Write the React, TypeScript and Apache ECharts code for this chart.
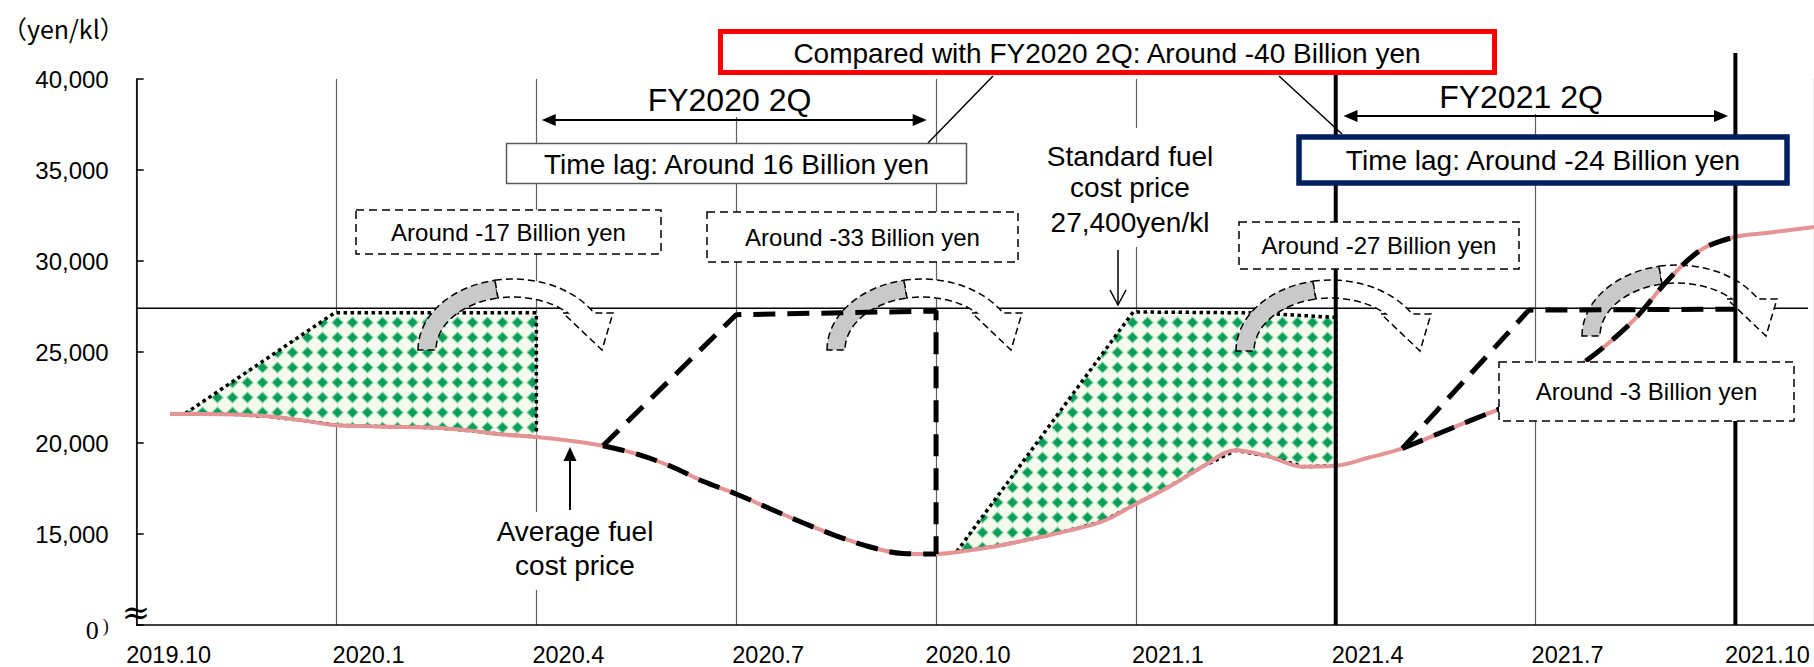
import React, { useEffect, useRef } from "react";
import * as echarts from "echarts";

const FONT = "'Liberation Sans', Arial, Helvetica, sans-serif";

// ---------- data ----------
const xAxisLabels = ["2019.10", "2020.1", "2020.4", "2020.7", "2020.10", "2021.1", "2021.4", "2021.7", "2021.10"];
const xMin = 0;
const xMax = 25.18;
const xStep = 3;
const yMin = 10000;
const yMax = 40000;
const yStep = 5000;
const standardFuelPrice = 27400;
const standardLineEnd = 25.09;

// months since 2019.10, yen/kl
const averageFuelPrice: [number, number][] = [
  [0.5, 21600], [1, 21600], [1.5, 21570], [2, 21450], [2.5, 21230], [3, 20970], [3.5, 20920],
  [4, 20880], [4.5, 20840], [5, 20680], [5.5, 20470], [6, 20330], [6.5, 20130], [7, 19850],
  [7.5, 19400], [8, 18750], [8.5, 17900], [9, 17200], [9.5, 16400], [10, 15620], [10.5, 14900],
  [11, 14300], [11.5, 13930], [12, 13900], [12.5, 14100], [13, 14400], [13.5, 14780], [14, 15200],
  [14.5, 15700], [15, 16650], [15.5, 17600], [16, 18700], [16.5, 19600], [17, 19250], [17.5, 18700],
  [18, 18750], [18.5, 19200], [19, 19700], [19.5, 20450], [20, 21200], [20.5, 21930], [21, 22700],
  [21.5, 23850], [22, 25200], [22.5, 26850], [23, 29000], [23.5, 30650], [24, 31330], [24.5, 31550],
  [25.18, 31870],
];

const timeLag2020Top: [number, number][] = [[0.73, 21620], [2.97, 27150], [6, 27150]];
const timeLag2021Top: [number, number][] = [[12.31, 14030], [14.96, 27200], [16.8, 27150], [18, 26900]];

const projection2020: [number, number][] = [[7, 19850], [9, 27050], [12, 27250], [12, 13900]];
const projection2020Span: [number, number] = [7, 12];
const projection2021: [number, number][] = [[19, 19700], [20.9, 27300], [24, 27350]];
const projection2021Span: [number, number] = [19, 24];

const fiscalBoundaries = [18, 24];

// ---------- curved arrow shapes ----------
const CURVE_GRAY = "M -95 0 A 95 71 0 0 1 -18 -69.7 L -15 -52 A 77 53 0 0 0 -77 0 Z";
const CURVE_WHITE = "M -18 -69.7 A 95 71 0 0 1 81 -37 L 100 -37 L 89 0 L 50 -37 L 55 -37 A 77 53 0 0 0 -15 -52 Z";
echarts.graphic.registerShape("curveGray", echarts.graphic.extendPath(CURVE_GRAY, {}) as any);
echarts.graphic.registerShape("curveWhite", echarts.graphic.extendPath(CURVE_WHITE, {}) as any);

const redBetween = (lo: number, hi: number) =>
  averageFuelPrice.filter(([m]) => m >= lo - 1e-9 && m <= hi + 1e-9);
const areaPolygon = (top: [number, number][]) => {
  const lo = top[0][0];
  const hi = top[top.length - 1][0];
  return [...top, ...redBetween(lo, hi).slice().reverse()];
};

export default function App() {
  const ref = useRef<HTMLDivElement>(null);
  useEffect(() => {
    if (!ref.current) return;
    const chart = echarts.init(ref.current, undefined, { renderer: "svg" });

    const tile = document.createElement("canvas");
    tile.width = 15;
    tile.height = 15;
    const ctx = tile.getContext("2d")!;
    ctx.fillStyle = "#f4fbee";
    ctx.fillRect(0, 0, 15, 15);
    const diamond = (r: number, color: string) => {
      ctx.fillStyle = color;
      ctx.beginPath();
      ctx.moveTo(7.5, 7.5 - r);
      ctx.lineTo(7.5 + r, 7.5);
      ctx.lineTo(7.5, 7.5 + r);
      ctx.lineTo(7.5 - r, 7.5);
      ctx.closePath();
      ctx.fill();
    };
    diamond(6.3, "#8ed5aa");
    diamond(4.8, "#0a9f58");
    const pattern: any = { image: tile, repeat: "repeat", imageWidth: 15, imageHeight: 15 };

    const greenSeries = (poly: [number, number][]) => ({
      type: "custom",
      coordinateSystem: "cartesian2d",
      z: 1,
      silent: true,
      data: [[poly[0][0], poly[0][1]]],
      renderItem: (_p: any, api: any) => ({
        type: "polygon",
        shape: { points: poly.map((p) => api.coord(p)) },
        style: { fill: pattern, stroke: "#000", lineWidth: 3.5, lineDash: [3.5, 3.5] },
      }),
    });

    const dashedBlack = { color: "#000", width: 5, type: [22, 12] as any };

    const option: any = {
      animation: false,
      backgroundColor: "#fff",
      grid: { left: 136.7, right: 0, top: 79, bottom: 40.3, containLabel: false },
      xAxis: {
        type: "value",
        min: xMin,
        max: xMax,
        interval: xStep,
        axisLine: { lineStyle: { color: "#000", width: 1.5 } },
        axisTick: { show: false },
        splitLine: { show: true, lineStyle: { color: "#5f5f5f", width: 1.2 } },
        axisLabel: {
          color: "#000",
          fontFamily: FONT,
          fontSize: 23.5,
          lineHeight: 24,
          margin: 18,
          padding: [0, 0, 0, 64],
          showMaxLabel: false,
          formatter: (v: number) => {
            const i = Math.round(v / xStep);
            return Math.abs(v - i * xStep) < 1e-6 && xAxisLabels[i] ? xAxisLabels[i] : "";
          },
        },
      },
      yAxis: {
        type: "value",
        min: yMin,
        max: yMax,
        interval: yStep,
        axisLine: { show: true, lineStyle: { color: "#000", width: 1.5 } },
        axisTick: { show: true, inside: true, length: 7, lineStyle: { color: "#000", width: 1.5 } },
        splitLine: { show: false },
        axisLabel: {
          color: "#000",
          fontFamily: FONT,
          fontSize: 24,
          margin: 28,
          formatter: (v: number) =>
            v === yMin ? "{z|0}{p|)}" : v.toLocaleString("en-US"),
          rich: {
            z: { fontFamily: "'Liberation Serif', serif", fontSize: 26, color: "#000", padding: [10, 0, 0, 0] },
            p: { fontFamily: "'Liberation Serif', serif", fontSize: 18, color: "#000", padding: [2, 0, 0, 4] },
          },
        },
      },
      series: [
        greenSeries(areaPolygon(timeLag2020Top)),
        greenSeries(areaPolygon(timeLag2021Top)),
        {
          type: "line",
          z: 1,
          silent: true,
          symbol: "none",
          data: [[xMin, standardFuelPrice], [standardLineEnd, standardFuelPrice]],
          lineStyle: { color: "#000", width: 1.5 },
        },
        {
          type: "line",
          z: 4,
          silent: true,
          symbol: "none",
          smooth: 0.35,
          data: averageFuelPrice,
          lineStyle: { color: "#e49494", width: 4 },
        },
        {
          type: "line",
          z: 4,
          silent: true,
          symbol: "none",
          smooth: 0.35,
          data: redBetween(projection2020Span[0], projection2020Span[1]),
          lineStyle: dashedBlack,
        },
        {
          type: "line",
          z: 4,
          silent: true,
          symbol: "none",
          smooth: 0.35,
          data: redBetween(projection2021Span[0], projection2021Span[1]),
          lineStyle: dashedBlack,
        },
        {
          type: "line",
          z: 4,
          silent: true,
          symbol: "none",
          data: projection2020,
          lineStyle: dashedBlack,
        },
        {
          type: "line",
          z: 4,
          silent: true,
          symbol: "none",
          data: projection2021,
          lineStyle: dashedBlack,
        },
      ],
    };
    chart.setOption(option);

    const px = (m: number, v: number) => chart.convertToPixel({ gridIndex: 0 }, [m, v]) as number[];
    const yBase = px(0, yMin)[1];

    const els: any[] = [];
    const text = (x: number, y: number, t: string, size: number, extra: any = {}) =>
      els.push({
        type: "text",
        x,
        y,
        z: 12,
        silent: true,
        style: { text: t, fontSize: size, fontFamily: FONT, fill: "#000", align: "center", verticalAlign: "middle", ...extra },
      });
    const rect = (x: number, y: number, w: number, h: number, style: any, z = 10) =>
      els.push({ type: "rect", z, silent: true, shape: { x, y, width: w, height: h }, style });
    const line = (x1: number, y1: number, x2: number, y2: number, style: any, z = 8) =>
      els.push({ type: "line", z, silent: true, shape: { x1, y1, x2, y2 }, style });
    const polygon = (points: number[][], style: any, z = 8) =>
      els.push({ type: "polygon", z, silent: true, shape: { points }, style });
    const polyline = (points: number[][], style: any, z = 8) =>
      els.push({ type: "polyline", z, silent: true, shape: { points }, style });

    // unit label and axis break
    text(2, 28, "（yen/kl）", 25, { align: "left", fontFamily: "'Noto Sans CJK JP', sans-serif" });
    text(136, 612, "≈", 34, { fontFamily: "'DejaVu Serif', serif" });

    // thick fiscal boundary lines
    fiscalBoundaries.forEach((m, i) => {
      const x = px(m, yMin)[0];
      line(x, i === 0 ? 75 : 53, x, yBase, { stroke: "#000", lineWidth: 4 }, 6);
    });

    // curved arrows
    const curveCenters = [[513, 350], [922, 350], [1331, 351], [1677, 336]];
    curveCenters.forEach(([cx, cy]) => {
      els.push({ type: "curveGray", x: cx, y: cy, z: 3, silent: true, style: { fill: "#c9c9c9", stroke: "#000", lineWidth: 1.5, lineDash: [7, 4] } });
      els.push({ type: "curveWhite", x: cx, y: cy, z: 3, silent: true, style: { fill: "#fff", stroke: "#000", lineWidth: 1.5, lineDash: [7, 4] } });
    });

    // red summary box
    rect(720.5, 31.5, 774, 41, { fill: "#fff", stroke: "#ff0000", lineWidth: 5 });
    text(1107, 53, "Compared with FY2020 2Q: Around -40 Billion yen", 28);
    line(993, 76, 928, 143, { stroke: "#000", lineWidth: 1.5 }, 9);
    line(1279, 76, 1342, 134, { stroke: "#000", lineWidth: 1.5 }, 9);

    // covers for gridlines behind period titles
    rect(728, 76, 16, 41, { fill: "#fff" }, 7);
    rect(1527, 76, 16, 38, { fill: "#fff" }, 7);

    // period brackets
    const bracket = (x1: number, x2: number, y: number) => {
      line(x1 + 10, y, x2 - 10, y, { stroke: "#000", lineWidth: 2 });
      polygon([[x1, y], [x1 + 14, y - 6], [x1 + 14, y + 6]], { fill: "#000" });
      polygon([[x2, y], [x2 - 14, y - 6], [x2 - 14, y + 6]], { fill: "#000" });
    };
    bracket(541.7, 926.7, 120);
    bracket(1343.5, 1728, 116);
    text(729.5, 100, "FY2020 2Q", 32);
    text(1521, 97, "FY2021 2Q", 32);

    // time lag boxes
    rect(506.5, 143.5, 460, 40, { fill: "#fff", stroke: "#595959", lineWidth: 1.5 });
    text(736.5, 164, "Time lag: Around 16 Billion yen", 28);
    rect(1299, 137, 488, 46, { fill: "#fff", stroke: "#002060", lineWidth: 5.5 });
    text(1543, 160.5, "Time lag: Around -24 Billion yen", 28);

    // dashed estimate boxes
    const dashed = { fill: "#fff", stroke: "#000", lineWidth: 1.5, lineDash: [8, 5] };
    const dashedBoxes: [number, number, number, number, string][] = [
      [356, 210, 305, 44, "Around -17 Billion yen"],
      [707, 212, 311, 50, "Around -33 Billion yen"],
      [1239, 222, 280, 47, "Around -27 Billion yen"],
      [1499, 362, 295, 59, "Around -3 Billion yen"],
    ];
    dashedBoxes.forEach(([x, y, w, h, t]) => {
      rect(x, y, w, h, dashed);
      text(x + w / 2, y + h / 2, t, 24);
    });

    // standard fuel cost price label
    rect(1040, 128, 185, 119, { fill: "#fff" }, 9);
    text(1130, 156.3, "Standard fuel", 28);
    text(1130, 187.6, "cost price", 28);
    text(1130, 222, "27,400yen/kl", 28);
    line(1118, 250, 1118, 305, { stroke: "#000", lineWidth: 1.5 });
    polyline([[1110, 290], [1118, 305], [1126, 290]], { stroke: "#000", lineWidth: 1.5, fill: "none" });

    // average fuel cost price label
    rect(495, 512, 162, 78, { fill: "#fff" }, 9);
    text(575, 531, "Average fuel", 28);
    text(575, 565.3, "cost price", 28);
    line(570, 510, 570, 458, { stroke: "#000", lineWidth: 2 });
    polygon([[570, 447], [563.5, 461], [576.5, 461]], { fill: "#000" });

    chart.setOption({ graphic: { elements: els } });

    return () => chart.dispose();
  }, []);
  return <div ref={ref} style={{ position: "fixed", left: 0, top: 0, width: 1814, height: 667 }} />;
}
